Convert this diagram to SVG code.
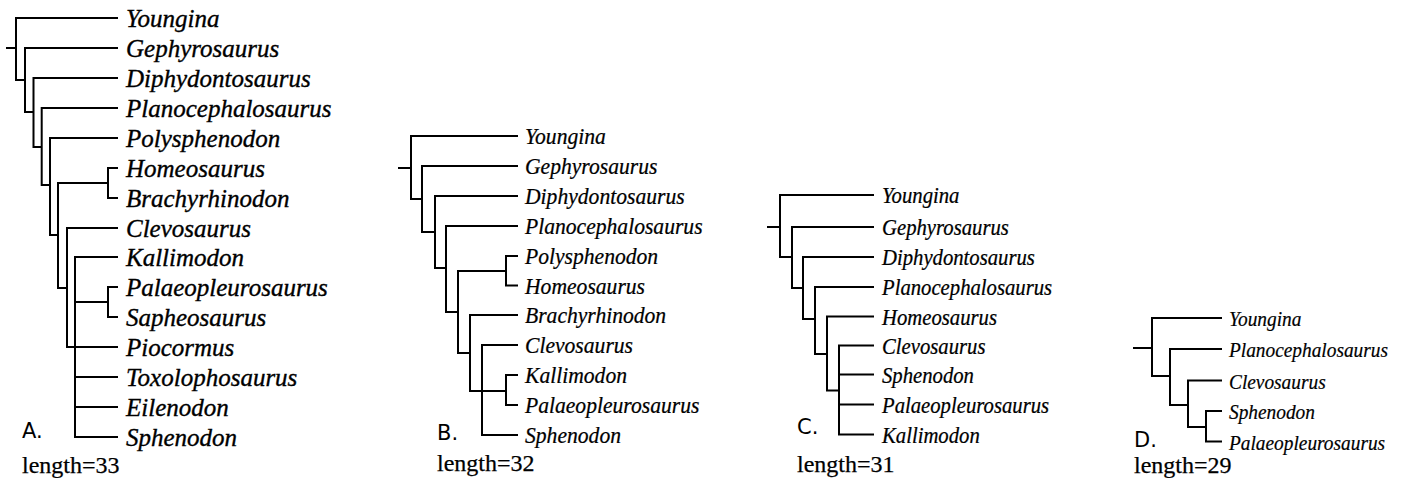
<svg xmlns="http://www.w3.org/2000/svg" width="1403" height="478" viewBox="0 0 1403 478">
<style>
.ln{fill:none;stroke:#000;stroke-width:2;stroke-linecap:square}
.ta{font-family:"Liberation Serif","Times New Roman",serif;font-style:italic;font-size:25px;fill:#000;stroke:#000;stroke-width:0.35}
.tb{font-family:"Liberation Serif","Times New Roman",serif;font-style:italic;font-size:24px;fill:#000;stroke:#000;stroke-width:0.25}
.tc{font-family:"Liberation Serif","Times New Roman",serif;font-style:italic;font-size:23px;fill:#000;stroke:#000;stroke-width:0.25}
.td{font-family:"Liberation Serif","Times New Roman",serif;font-style:italic;font-size:21.5px;fill:#000;stroke:#000;stroke-width:0.2}
.lab{font-family:"DejaVu Sans","Liberation Sans",sans-serif;font-size:21px;fill:#000}
.len{font-family:"Liberation Serif","Times New Roman",serif;font-size:24px;fill:#000;stroke:#000;stroke-width:0.25}
</style>
<rect width="1403" height="478" fill="#fff"/>
<g id="connectors">
  <!-- Tree A -->
  <path class="ln" d="M7,48H16 M16,18V80 M16,18H117 M16,80H25 M25,48V112 M25,48H117 M25,112H33.5 M33.5,78V147 M33.5,78H117 M33.5,147H41.7 M41.7,108V185 M41.7,108H117 M41.7,185H50 M50,138V235 M50,138H117 M50,235H58 M58,183V288 M58,183H108 M108,168V198 M108,168H117 M108,198H117 M58,288H67 M67,228V347 M67,228H117 M67,347H117 M75,257V437 M75,257H117 M75,302H108 M108,287V317 M108,287H117 M108,317H117 M75,377H117 M75,407H117 M75,437H117"/>
  <!-- Tree B -->
  <path class="ln" d="M399,168H411 M411,136V199 M411,136H517 M411,199H422 M422,166V232 M422,166H517 M422,232H435 M435,196V268 M435,196H517 M435,268H446 M446,226V312 M446,226H517 M446,312H458 M458,271V353 M458,271H506 M506,256V285.5 M506,256H517 M506,285.5H517 M458,353H470 M470,315V391 M470,315H517 M470,391H506 M482,345V435 M482,345H517 M482,435H517 M506,375V405 M506,375H517 M506,405H517"/>
  <!-- Tree C -->
  <path class="ln" d="M768,227H780 M780,195V257 M780,195H873 M780,257H792 M792,227V288 M792,227H873 M792,288H803 M803,257V319 M803,257H873 M803,319H815 M815,287V354 M815,287H873 M815,354H827 M827,316.5V390.5 M827,316.5H873 M827,390.5H839 M839,345.5V434.5 M839,345.5H873 M839,374.5H873 M839,404.5H873 M839,434.5H873"/>
  <!-- Tree D -->
  <path class="ln" d="M1134,348H1152 M1152,318V376 M1152,318H1221 M1152,376H1170 M1170,349V405 M1170,349H1221 M1170,405H1188 M1188,380.5V427 M1188,380.5H1221 M1188,427H1206 M1206,411V441.5 M1206,411H1221 M1206,441.5H1221"/>
</g>
<g id="treeA">
  <g id="A-Youngina"><text class="ta" x="126" y="27">Youngina</text></g>
  <g id="A-Gephyrosaurus"><text class="ta" x="126" y="57">Gephyrosaurus</text></g>
  <g id="A-Diphydontosaurus"><text class="ta" x="126" y="87">Diphydontosaurus</text></g>
  <g id="A-Planocephalosaurus"><text class="ta" x="126" y="117">Planocephalosaurus</text></g>
  <g id="A-Polysphenodon"><text class="ta" x="126" y="147">Polysphenodon</text></g>
  <g id="A-Homeosaurus"><text class="ta" x="126" y="177">Homeosaurus</text></g>
  <g id="A-Brachyrhinodon"><text class="ta" x="126" y="207">Brachyrhinodon</text></g>
  <g id="A-Clevosaurus"><text class="ta" x="126" y="237">Clevosaurus</text></g>
  <g id="A-Kallimodon"><text class="ta" x="126" y="266">Kallimodon</text></g>
  <g id="A-Palaeopleurosaurus"><text class="ta" x="126" y="296">Palaeopleurosaurus</text></g>
  <g id="A-Sapheosaurus"><text class="ta" x="126" y="326">Sapheosaurus</text></g>
  <g id="A-Piocormus"><text class="ta" x="126" y="356">Piocormus</text></g>
  <g id="A-Toxolophosaurus"><text class="ta" x="126" y="386">Toxolophosaurus</text></g>
  <g id="A-Eilenodon"><text class="ta" x="126" y="416">Eilenodon</text></g>
  <g id="A-Sphenodon"><text class="ta" x="126" y="446">Sphenodon</text></g>
  <g id="A-label"><text class="lab" x="22" y="438">A.</text></g>
  <g id="A-length"><text class="len" x="22" y="473">length=33</text></g>
</g>
<g id="treeB">
  <g id="B-Youngina"><text class="tb" transform="translate(525,144) scale(0.9,1)">Youngina</text></g>
  <g id="B-Gephyrosaurus"><text class="tb" transform="translate(525,174) scale(0.9,1)">Gephyrosaurus</text></g>
  <g id="B-Diphydontosaurus"><text class="tb" transform="translate(525,204) scale(0.9,1)">Diphydontosaurus</text></g>
  <g id="B-Planocephalosaurus"><text class="tb" transform="translate(525,234) scale(0.9,1)">Planocephalosaurus</text></g>
  <g id="B-Polysphenodon"><text class="tb" transform="translate(525,264) scale(0.9,1)">Polysphenodon</text></g>
  <g id="B-Homeosaurus"><text class="tb" transform="translate(525,294) scale(0.9,1)">Homeosaurus</text></g>
  <g id="B-Brachyrhinodon"><text class="tb" transform="translate(525,323) scale(0.9,1)">Brachyrhinodon</text></g>
  <g id="B-Clevosaurus"><text class="tb" transform="translate(525,353) scale(0.9,1)">Clevosaurus</text></g>
  <g id="B-Kallimodon"><text class="tb" transform="translate(525,383) scale(0.9,1)">Kallimodon</text></g>
  <g id="B-Palaeopleurosaurus"><text class="tb" transform="translate(525,413) scale(0.9,1)">Palaeopleurosaurus</text></g>
  <g id="B-Sphenodon"><text class="tb" transform="translate(525,443) scale(0.9,1)">Sphenodon</text></g>
  <g id="B-label"><text class="lab" x="437" y="440">B.</text></g>
  <g id="B-length"><text class="len" x="437" y="471">length=32</text></g>
</g>
<g id="treeC">
  <g id="C-Youngina"><text class="tc" transform="translate(882,203) scale(0.9,1)">Youngina</text></g>
  <g id="C-Gephyrosaurus"><text class="tc" transform="translate(882,235) scale(0.9,1)">Gephyrosaurus</text></g>
  <g id="C-Diphydontosaurus"><text class="tc" transform="translate(882,265) scale(0.9,1)">Diphydontosaurus</text></g>
  <g id="C-Planocephalosaurus"><text class="tc" transform="translate(882,295) scale(0.9,1)">Planocephalosaurus</text></g>
  <g id="C-Homeosaurus"><text class="tc" transform="translate(882,324.5) scale(0.9,1)">Homeosaurus</text></g>
  <g id="C-Clevosaurus"><text class="tc" transform="translate(882,353.5) scale(0.9,1)">Clevosaurus</text></g>
  <g id="C-Sphenodon"><text class="tc" transform="translate(882,382.5) scale(0.9,1)">Sphenodon</text></g>
  <g id="C-Palaeopleurosaurus"><text class="tc" transform="translate(882,412.5) scale(0.9,1)">Palaeopleurosaurus</text></g>
  <g id="C-Kallimodon"><text class="tc" transform="translate(882,442.5) scale(0.9,1)">Kallimodon</text></g>
  <g id="C-label"><text class="lab" x="797" y="434">C.</text></g>
  <g id="C-length"><text class="len" x="797" y="472">length=31</text></g>
</g>
<g id="treeD">
  <g id="D-Youngina"><text class="td" transform="translate(1229,326) scale(0.9,1)">Youngina</text></g>
  <g id="D-Planocephalosaurus"><text class="td" transform="translate(1229,357) scale(0.9,1)">Planocephalosaurus</text></g>
  <g id="D-Clevosaurus"><text class="td" transform="translate(1229,388.5) scale(0.9,1)">Clevosaurus</text></g>
  <g id="D-Sphenodon"><text class="td" transform="translate(1229,419) scale(0.9,1)">Sphenodon</text></g>
  <g id="D-Palaeopleurosaurus"><text class="td" transform="translate(1229,449.5) scale(0.9,1)">Palaeopleurosaurus</text></g>
  <g id="D-label"><text class="lab" x="1134" y="447">D.</text></g>
  <g id="D-length"><text class="len" x="1134" y="473">length=29</text></g>
</g>
</svg>
